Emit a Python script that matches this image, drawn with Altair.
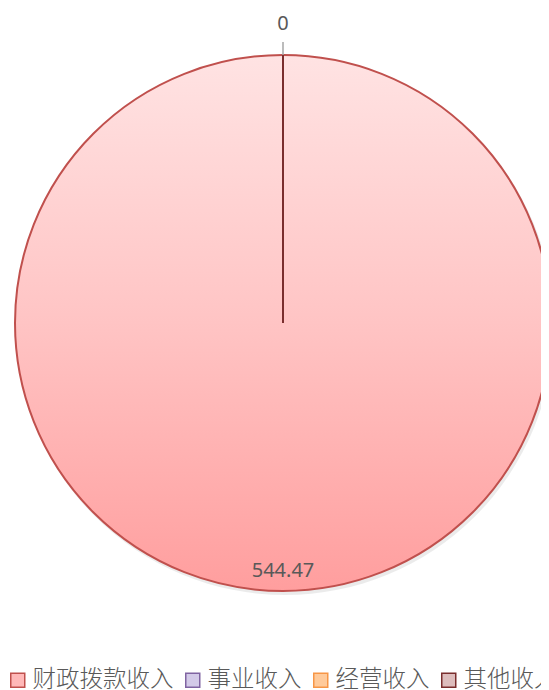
import altair as alt
import pandas as pd

categories = ["财政拨款收入", "事业收入", "经营收入", "其他收入"]
values = [544.47, 0, 0, 0]

legend_fill = ["#FFB8B8", "#D3CAE8", "#FFCA9A", "#DDBDBD"]
legend_stroke = ["#C0504D", "#8064A2", "#F79646", "#7A2E2E"]
slice_stroke = ["#C0504D", "#8064A2", "#F79646", "#7A2E2E"]

df = pd.DataFrame({
    "cat": categories,
    "value": values,
    "idx": list(range(len(categories))),
})

CX, CY, R = 275, 315, 268

grad = alt.Gradient(
    gradient="linear",
    stops=[
        alt.GradientStop(color="#FFE3E3", offset=0),
        alt.GradientStop(color="#FFC4C4", offset=0.5),
        alt.GradientStop(color="#FF9E9E", offset=1),
    ],
    x1=0, x2=0, y1=0, y2=1,
)

base = alt.Chart(df).encode(
    theta=alt.Theta("value:Q", stack=True),
    order=alt.Order("idx:Q", sort="ascending"),
)

shadow = base.mark_arc(radius=R + 1, fill="#000000", fillOpacity=0.08, strokeOpacity=0).encode(
    x=alt.value(CX + 2), y=alt.value(CY + 3),
)

pie = base.mark_arc(radius=R, fill=grad, strokeWidth=2).encode(
    x=alt.value(CX), y=alt.value(CY),
    stroke=alt.Stroke("cat:N", scale=alt.Scale(domain=categories, range=slice_stroke), legend=None),
)

leader = base.mark_arc(radius=R + 13, radius2=R, fillOpacity=0, stroke="#A6A6A6", strokeWidth=1.5).encode(
    x=alt.value(CX), y=alt.value(CY),
    strokeOpacity=alt.condition("datum.value == 0 && datum.cat == '事业收入'", alt.value(1), alt.value(0)),
)

txt_main = base.mark_text(radius=248, fontSize=20, font="Noto Sans", color="#595959", baseline="middle").encode(
    x=alt.value(CX), y=alt.value(CY),
    text=alt.Text("value:N"),
    opacity=alt.condition("datum.value > 0", alt.value(1), alt.value(0)),
)

txt_zero = base.mark_text(radius=299, fontSize=20, font="Noto Sans", color="#595959", baseline="middle").encode(
    x=alt.value(CX), y=alt.value(CY),
    text=alt.Text("value:N"),
    opacity=alt.condition("datum.value == 0 && datum.cat == '事业收入'", alt.value(1), alt.value(0)),
)

legend_common = dict(
    title=None, orient="none", legendX=-2, legendY=660, direction="horizontal",
    labelFontSize=23.5, labelFont="Noto Sans CJK SC", labelFontWeight=300,
    labelOffset=3, columnPadding=7, symbolType="square", symbolSize=196,
    symbolOpacity=1, labelLimit=0,
)

legend_fill_layer = alt.Chart(df).mark_point(shape="square", filled=True, size=196, opacity=1).encode(
    x=alt.value(-100), y=alt.value(-100),
    fill=alt.Fill("cat:N", scale=alt.Scale(domain=categories, range=legend_fill),
                  legend=alt.Legend(labelColor="#595959", symbolStrokeWidth=0, **legend_common)),
)

legend_stroke_layer = alt.Chart(df).transform_calculate(cat2="datum.cat").mark_point(
    shape="square", filled=False, size=196, strokeWidth=1.5, opacity=1
).encode(
    x=alt.value(-100), y=alt.value(-100),
    stroke=alt.Stroke("cat2:N", scale=alt.Scale(domain=categories, range=legend_stroke),
                      legend=alt.Legend(labelColor="#595959", labelOpacity=0, symbolStrokeWidth=1.5,
                                        symbolFillColor="transparent", **legend_common)),
)

chart = alt.layer(shadow, pie, leader, txt_main, txt_zero, legend_fill_layer, legend_stroke_layer).resolve_scale(
    stroke="independent", fill="independent"
).properties(
    width=533, height=682, autosize=alt.AutoSizeParams(type="none"), padding=0,
).configure_view(stroke=None)

chart.save("out.html", embed_options={"renderer": "svg", "actions": False})
